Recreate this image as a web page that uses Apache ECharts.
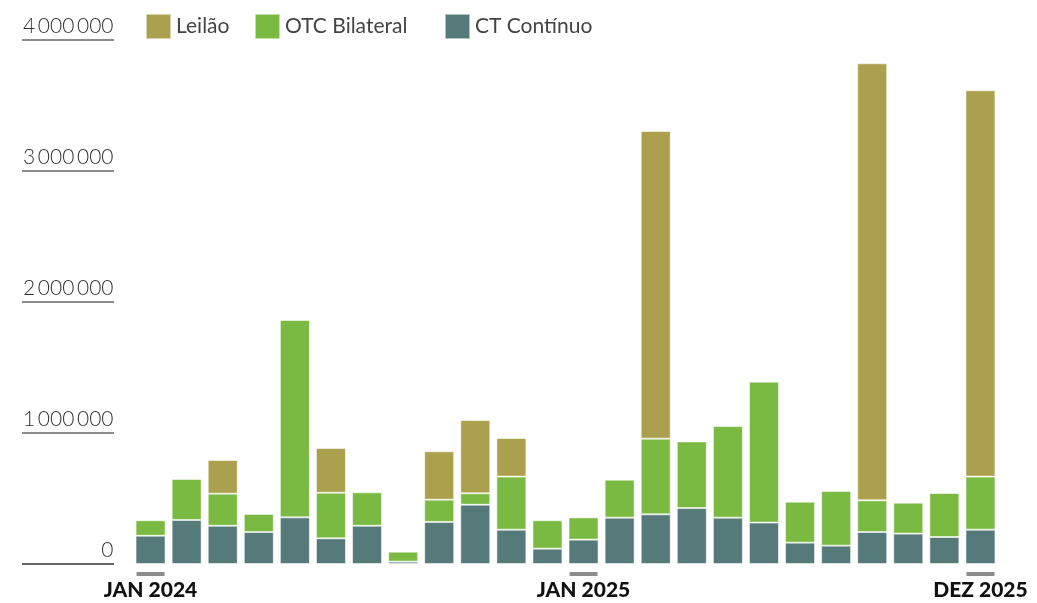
<!DOCTYPE html>
<html>
<head>
<meta charset="utf-8">
<script src="https://cdn.jsdelivr.net/npm/echarts@6/dist/echarts.min.js"></script>
<style>
    html, body { margin: 0; padding: 0; background: #fff; }
    #chart { width: 1037px; height: 603px; }
</style>
</head>
<body>
<div id="chart"></div>
<script>
// meses jan/2024 .. dez/2025
var months = ['JAN 2024','FEV 2024','MAR 2024','ABR 2024','MAI 2024','JUN 2024','JUL 2024','AGO 2024','SET 2024','OUT 2024','NOV 2024','DEZ 2024',
              'JAN 2025','FEV 2025','MAR 2025','ABR 2025','MAI 2025','JUN 2025','JUL 2025','AGO 2025','SET 2025','OUT 2025','NOV 2025','DEZ 2025'];
var ctContinuo = [216000,336000,292000,244000,356000,196000,292000,18000,321000,453000,262000,117000,
                  186000,354000,379000,427000,354000,316000,163000,140000,244000,232000,206000,262000];
var otcBilateral = [118000,313000,245000,138000,1507000,348000,255000,76000,170000,87000,405000,217000,
                    170000,290000,578000,509000,699000,1076000,313000,417000,242000,236000,336000,405000];
var leilao = [null,null,257000,null,null,341000,null,null,369000,559000,295000,null,
              null,null,2348000,null,null,null,null,null,3336000,null,null,2949000];
var yTicks = [0, 1000000, 2000000, 3000000, 4000000];
var shownLabels = [0, 12, 23];

var colors = { leilao: '#aba04d', otc: '#7bba42', ct: '#56797a' };

function fmt(v) {
    return String(v).replace(/\B(?=(\d{3})+(?!\d))/g, '\u2009');
}

var chart = echarts.init(document.getElementById('chart'));
var barStyle = function (c) {
    return { color: c, borderColor: 'rgba(255,255,255,0.55)', borderWidth: 1 };
};
// uma legenda por serie, para acertar as posicoes
var legendAt = function (name, left) {
    return {
        data: [name],
        left: left,
        top: 8,
        itemWidth: 25,
        itemHeight: 25,
        itemGap: 8,
        icon: 'rect',
        textStyle: { fontSize: 21, color: '#444', fontFamily: 'Lato' }
    };
};

chart.setOption({
    backgroundColor: '#fff',
    animation: false,
    textStyle: { fontFamily: 'Lato' },
    legend: [
        legendAt('Leilão', 140),
        legendAt('OTC Bilateral', 249),
        legendAt('CT Contínuo', 439)
    ],
    grid: [
        { left: 132.5, right: 38.5, top: 40, bottom: 39 },
        { left: 22, width: 92, top: 40, bottom: 39 }
    ],
    xAxis: [{
        type: 'category',
        data: months,
        axisLine: { show: false },
        axisTick: { show: false },
        axisLabel: {
            margin: 8,
            interval: function (i) { return shownLabels.indexOf(i) >= 0; },
            formatter: function (v) { return '{bar|}\n{txt|' + v + '}'; },
            rich: {
                bar: { width: 28, height: 4, backgroundColor: '#8c8c8c' },
                txt: { fontSize: 21, fontWeight: 900, color: '#111', fontFamily: 'Lato', padding: [4, 0, 0, 0] }
            }
        }
    }, {
        gridIndex: 1, type: 'value', show: false, min: 0, max: 1
    }],
    yAxis: [{
        type: 'value',
        min: yTicks[0],
        max: yTicks[yTicks.length - 1],
        interval: 1000000,
        axisLine: { show: false },
        axisTick: { show: false },
        splitLine: { show: false },
        axisLabel: {
            margin: 19,
            verticalAlign: 'bottom',
            padding: [0, 0, 3, 0],
            fontSize: 21,
            fontWeight: 300,
            color: '#333',
            fontFamily: 'Lato',
            formatter: fmt
        }
    }, {
        gridIndex: 1,
        type: 'value',
        min: yTicks[0],
        max: yTicks[yTicks.length - 1],
        interval: 1000000,
        axisLine: { show: false },
        axisTick: { show: false },
        axisLabel: { show: false },
        splitLine: {
            show: true,
            lineStyle: { color: ['#333', '#666', '#666', '#666', '#666'], width: 1.6 }
        }
    }],
    series: [
        { name: 'CT Contínuo', type: 'bar', stack: 'total', data: ctContinuo, barWidth: 30, itemStyle: barStyle(colors.ct) },
        { name: 'OTC Bilateral', type: 'bar', stack: 'total', data: otcBilateral, barWidth: 30, itemStyle: barStyle(colors.otc) },
        { name: 'Leilão', type: 'bar', stack: 'total', data: leilao, barWidth: 30, itemStyle: barStyle(colors.leilao) }
    ]
});
</script>
</body>
</html>
